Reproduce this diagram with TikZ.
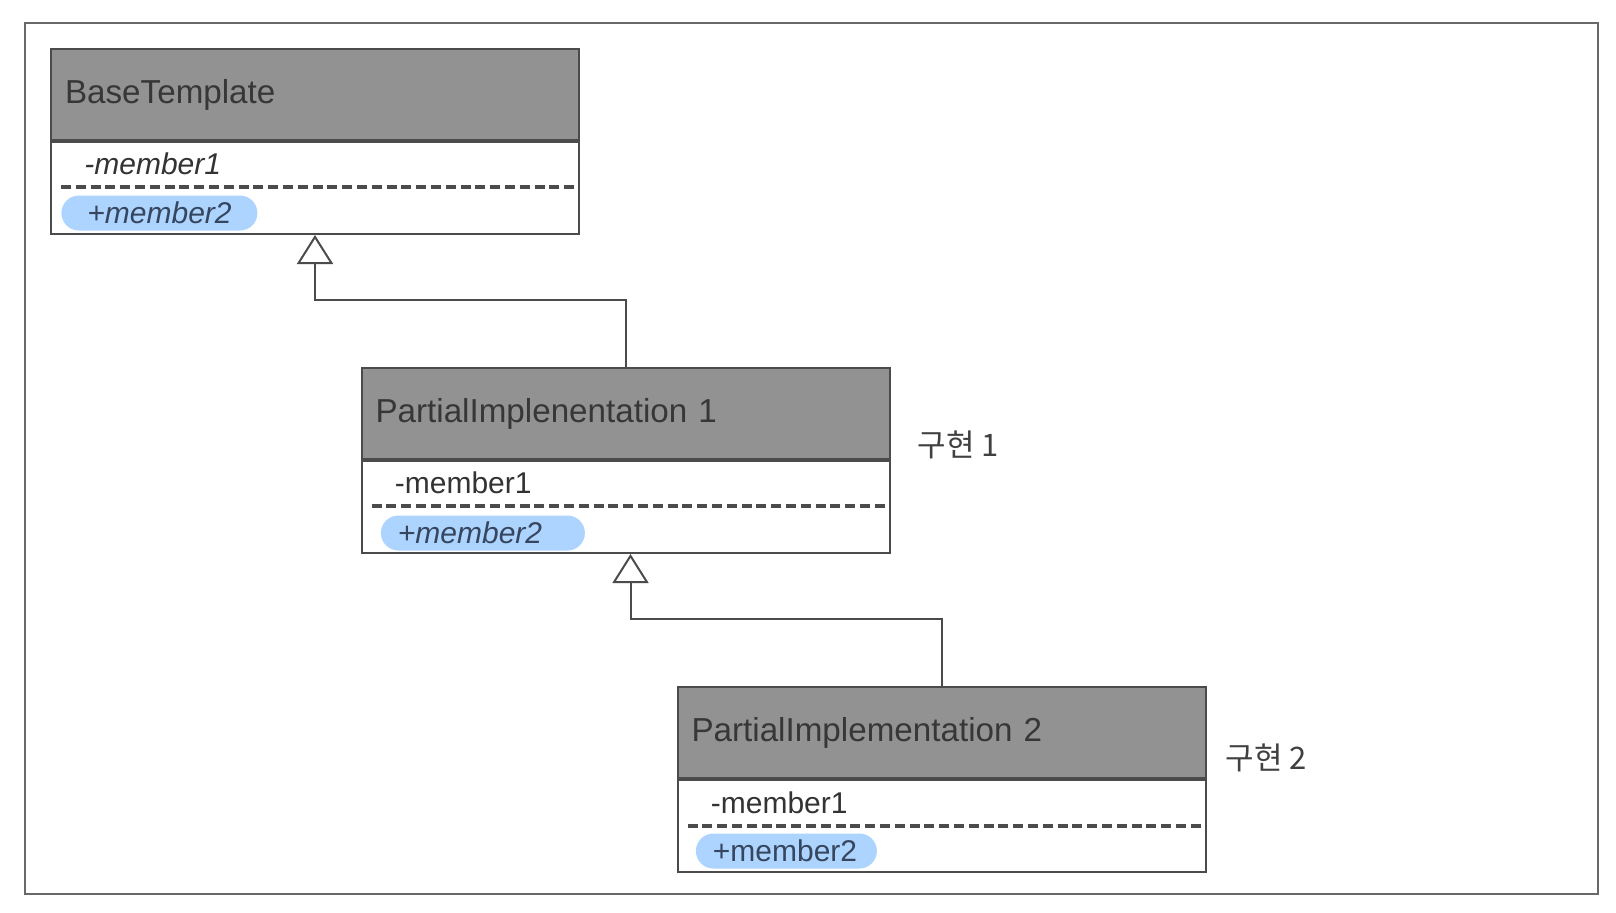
\documentclass[tikz,border=0pt]{standalone}
\usepackage{fontspec}
\setmainfont{Liberation Sans}
\newfontfamily\kofont{Noto Sans CJK KR}
\usetikzlibrary{arrows.meta, positioning}
\definecolor{headfill}{RGB}{146,146,146}
\definecolor{headtext}{RGB}{55,55,55}
\definecolor{linegray}{RGB}{75,75,75}
\definecolor{framegray}{RGB}{105,105,105}
\definecolor{pillblue}{RGB}{172,212,255}
\definecolor{pilltext}{RGB}{55,70,95}
\tikzstyle{classhead} = [rectangle, draw=linegray, line width=1pt, fill=headfill, minimum width=264pt, minimum height=45.5pt, text width=250pt, inner xsep=7pt, inner ysep=0pt, align=left, font=\fontsize{16.6}{19}\selectfont, text=headtext]
\tikzstyle{classbody} = [rectangle, draw=linegray, line width=1pt, fill=white, minimum width=264pt, minimum height=46pt, inner sep=0pt]
\tikzstyle{member} = [anchor=west, inner sep=0pt, font=\fontsize{15}{17}\selectfont, text=black!80]
\tikzstyle{pill} = [anchor=west, rectangle, rounded corners=8.75pt, fill=pillblue, minimum height=17.5pt, inner ysep=0pt, align=left, font=\fontsize{15}{17}\selectfont, text=pilltext]
\tikzstyle{sepline} = [draw=linegray, line width=1.8pt, dash pattern=on 5pt off 2.4pt]
\tikzstyle{inherit} = [draw=linegray, line width=1pt, -{Triangle[open, length=14.5pt, width=18pt]}]
\tikzstyle{impl} = [anchor=west, inner sep=0pt, font=\kofont\fontsize{15.5}{18}\selectfont, text=black!75]

\begin{document}
\begin{tikzpicture}[x=0.5pt, y=-0.5pt]

\useasboundingbox (0,0) rectangle (1616,912);
\draw[framegray, line width=1.2pt] (25,23) rectangle (1598,894);

% base class
\node (head1) [classhead] at (315,94.5) {BaseTemplate};
\node (body1) [classbody, below=0pt of head1] {};
\node (mem11) [member] at ([shift={(34,23)}]body1.north west) {\itshape -member1};
\draw [sepline] ([shift={(11,46)}]body1.north west) -- ([shift={(-5,46)}]body1.north east);
\node (mem12) [pill, inner xsep=13pt, text width=72pt] at ([shift={(11,72)}]body1.north west) {\itshape +member2};

% first partial implementation
\node (head2) [classhead] at (625.5,413.5) {PartialImplenentation 1};
\node (body2) [classbody, below=0pt of head2] {};
\node (mem21) [member] at ([shift={(34,23)}]body2.north west) {-member1};
\draw [sepline] ([shift={(11,46)}]body2.north west) -- ([shift={(-5,46)}]body2.north east);
\node (mem22) [pill, inner xsep=8.5pt, text width=85pt] at ([shift={(20,73)}]body2.north west) {\itshape +member2};
\node (impl1) [impl] at ([shift={(27,31)}]head2.east) {구현 1};

% second partial implementation
\node (head3) [classhead] at (941.5,732.5) {PartialImplementation 2};
\node (body3) [classbody, below=0pt of head3] {};
\node (mem31) [member] at ([shift={(34,24)}]body3.north west) {-member1};
\draw [sepline] ([shift={(11,47)}]body3.north west) -- ([shift={(-5,47)}]body3.north east);
\node (mem32) [pill, inner xsep=8.5pt, text width=73.5pt] at ([shift={(19,72)}]body3.north west) {+member2};
\node (impl2) [impl] at ([shift={(19,25)}]head3.east) {구현 2};

\draw [inherit] (head2.north) -- ++(0,-67) -| (body1.south);
\draw [inherit] (head3.north) -- ++(0,-67) -| ([xshift=2.5pt]body2.south);

\end{tikzpicture}
\end{document}
